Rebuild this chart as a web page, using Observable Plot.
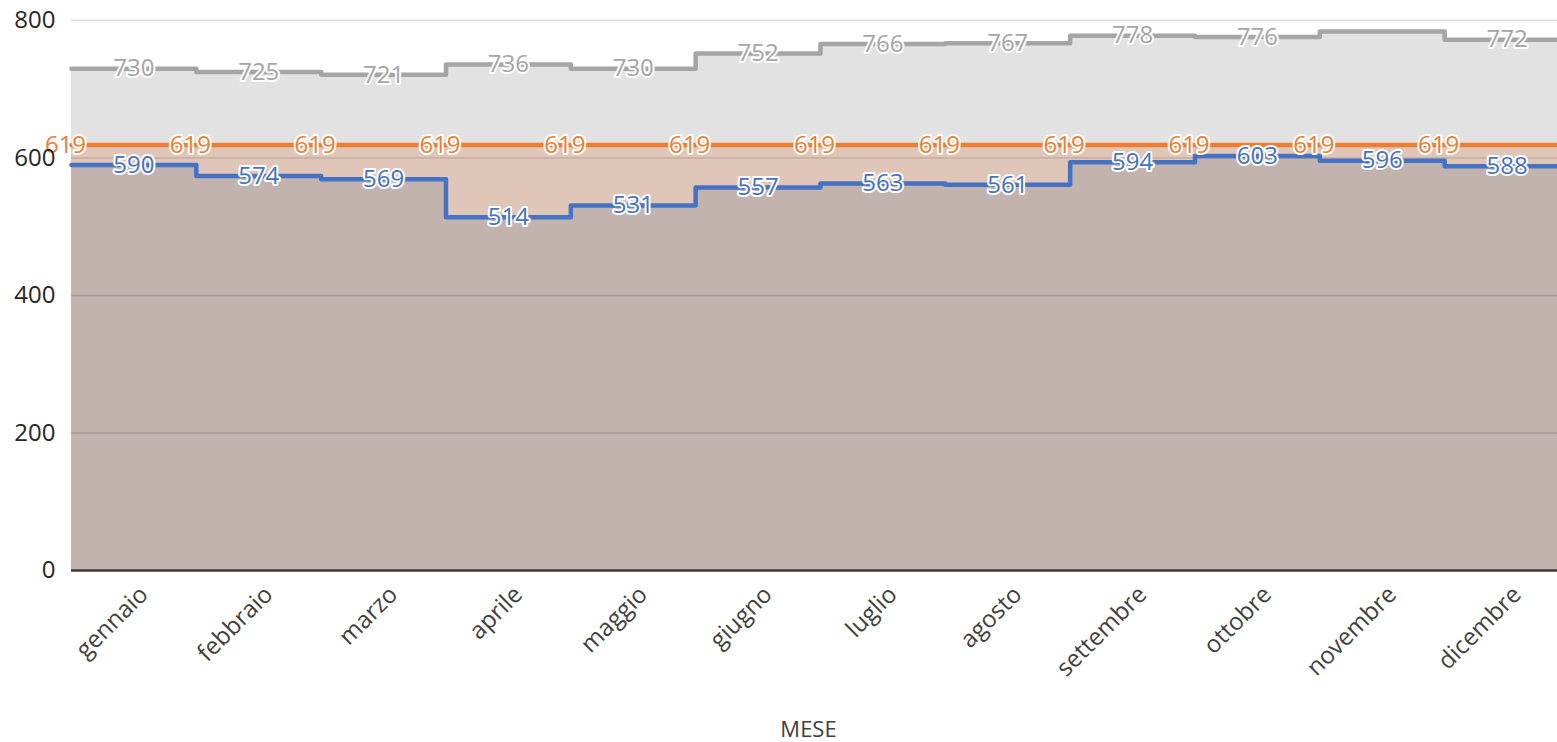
<!DOCTYPE html>
<html>
<head>
<meta charset="utf-8">
<script src="https://cdn.jsdelivr.net/npm/d3@7"></script>
<script src="https://cdn.jsdelivr.net/npm/@observablehq/plot@0.6"></script>
<style>
  html, body { margin: 0; padding: 0; background: #fff; overflow: hidden; }
  #chart svg { display: block; }
</style>
</head>
<body>
<div id="chart"></div>
<script>
const months = ["gennaio","febbraio","marzo","aprile","maggio","giugno","luglio","agosto","settembre","ottobre","novembre","dicembre"];
const grayValues   = [730, 725, 721, 736, 730, 752, 766, 767, 778, 776, 784, 772];
const orangeValues = [619, 619, 619, 619, 619, 619, 619, 619, 619, 619, 619, 619];
const blueValues   = [590, 574, 569, 514, 531, 557, 563, 561, 594, 603, 596, 588];
const grayHiddenLabels = ["novembre"];
const yTicks = [0, 200, 400, 600, 800];

// step data: one point at the start of each month band, plus a closing point
function steps(values) {
  const pts = values.map((v, i) => ({x: i, y: v}));
  pts.push({x: values.length, y: values[values.length - 1]});
  return pts;
}
const grayStep = steps(grayValues), orangeStep = steps(orangeValues), blueStep = steps(blueValues);
const grayLabels = months.map((m, i) => ({x: i + 0.5, y: grayValues[i], m})).filter(d => !grayHiddenLabels.includes(d.m));
const orangeLabels = months.map((m, i) => ({x: i, y: orangeValues[i]}));
const blueLabels = months.map((m, i) => ({x: i + 0.5, y: blueValues[i]}));

const font = "'Open Sans', 'Noto Sans', sans-serif";
const labelOpts = {fontSize: 24, stroke: "white", strokeWidth: 4, fontFamily: font, text: d => String(d.y)};

const chart = Plot.plot({
  width: 1557,
  height: 742,
  marginLeft: 71,
  marginRight: -12,
  marginTop: 20,
  marginBottom: 172,
  style: {fontFamily: font, background: "white"},
  x: {type: "linear", domain: [0, 12], axis: null},
  y: {domain: [0, 800], axis: null},
  marks: [
    Plot.areaY(grayStep, {x: "x", y: "y", curve: "step-after", fill: "#e2e2e2"}),
    Plot.areaY(orangeStep, {x: "x", y: "y", curve: "step-after", fill: "#e0c6b8"}),
    Plot.areaY(blueStep, {x: "x", y: "y", curve: "step-after", fill: "#c2b3af"}),
    Plot.ruleY(yTicks.filter(t => t > 0), {stroke: "black", strokeOpacity: 0.13, strokeWidth: 1.5}),
    Plot.ruleY([0], {stroke: "#3f3a39", strokeWidth: 2.5}),
    Plot.lineY(grayStep, {x: "x", y: "y", curve: "step-after", stroke: "#a5a5a5", strokeWidth: 4.5, strokeLinejoin: "round"}),
    Plot.lineY(orangeStep, {x: "x", y: "y", curve: "step-after", stroke: "#ed7d31", strokeWidth: 4.5, strokeLinejoin: "round"}),
    Plot.lineY(blueStep, {x: "x", y: "y", curve: "step-after", stroke: "#4472c4", strokeWidth: 4.5, strokeLinejoin: "round"}),
    Plot.text(grayLabels, {x: "x", y: "y", fill: "#a5a5a5", ...labelOpts}),
    Plot.text(orangeLabels, {x: "x", y: "y", fill: "#ed7d31", ...labelOpts, dx: -6}),
    Plot.text(blueLabels, {x: "x", y: "y", fill: "#4472c4", ...labelOpts}),
    Plot.axisY(yTicks, {tickSize: 0, tickPadding: 16, fontSize: 24, fill: "#262626", label: null}),
    Plot.axisX(months.map((m, i) => i + 0.5), {
      tickSize: 0, tickPadding: 20, tickRotate: -45, fontSize: 24, fill: "#404040",
      tickFormat: d => months[Math.floor(d)], label: null, textAnchor: "end", dx: 10
    }),
    Plot.text(["MESE"], {x: [6], frameAnchor: "bottom", dy: 166, fontSize: 22, fill: "#404040", dx: -12})
  ]
});
document.getElementById("chart").appendChild(chart);
</script>
</body>
</html>
